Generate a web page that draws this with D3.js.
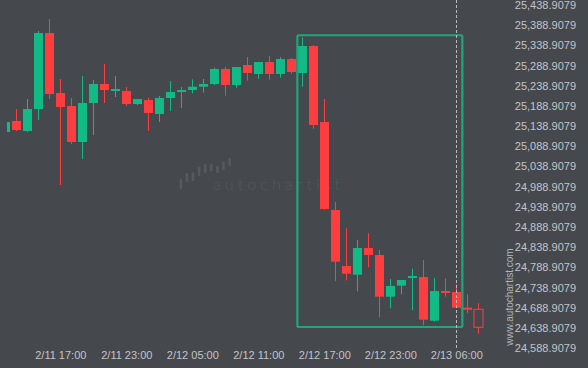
<!DOCTYPE html>
<html>
<head>
<meta charset="utf-8">
<script src="https://cdn.jsdelivr.net/npm/d3@7"></script>
<style>
  body { margin: 0; background: #45484d; }
  svg { display: block; font-family: "Liberation Sans", Arial, sans-serif; }
</style>
</head>
<body>
<div id="chart"></div>
<script>
// hourly candles, index 0 = 2/11 12:00
var opens  = [25124.1, 25151.4, 25126.6, 25181.1, 25369.5, 25220.8, 25188.6, 25099.4, 25196.0, 25243.1,
              25228.2, 25225.7, 25193.5, 25203.4, 25168.8, 25208.4, 25223.3, 25228.2, 25236.4, 25243.1,
              25280.3, 25240.6, 25290.2, 25267.9, 25297.6, 25267.9, 25305.0, 25270.4, 25337.3, 25148.9,
              24930.9, 24792.1, 24770.5, 24836.7, 24819.4, 24716.0, 24743.3, 24763.1, 24764.8, 24656.5,
              24730.1, 24727.7, 24688.8, 24684.8];
var highs  = [25148.9, 25181.1, 25205.9, 25374.4, 25404.2, 25255.5, 25208.4, 25262.9, 25253.0, 25292.7,
              25262.9, 25235.7, 25205.9, 25208.4, 25213.4, 25250.5, 25235.7, 25254.7, 25255.5, 25283.5,
              25285.2, 25285.2, 25310.0, 25297.6, 25312.5, 25310.0, 25307.5, 25358.8, 25339.7, 25205.9,
              24950.7, 24885.5, 24856.5, 24873.1, 24831.7, 24759.9, 24757.4, 24785.4, 24807.0, 24762.4,
              24761.6, 24746.7, 24722.0, 24699.7];
var lows   = [25124.1, 25126.6, 25124.1, 25153.9, 25205.9, 24992.8, 25094.4, 25057.2, 25116.7, 25196.0,
              25210.9, 25188.6, 25191.1, 25126.6, 25148.9, 25176.2, 25183.6, 25220.0, 25221.5, 25240.6,
              25214.1, 25233.9, 25251.3, 25256.2, 25253.8, 25258.7, 25268.6, 25236.4, 25132.3, 24930.9,
              24754.2, 24756.7, 24729.4, 24788.9, 24665.0, 24687.3, 24722.0, 24682.3, 24645.2, 24654.1,
              24716.0, 24688.8, 24674.9, 24624.3];
var closes = [25148.9, 25129.1, 25181.1, 25369.5, 25218.3, 25186.1, 25099.4, 25196.0, 25243.1, 25228.2,
              25230.7, 25193.5, 25205.9, 25171.2, 25208.4, 25223.3, 25228.2, 25236.4, 25243.1, 25280.3,
              25240.6, 25285.2, 25270.4, 25297.6, 25267.9, 25305.0, 25272.8, 25337.3, 25141.5, 24933.3,
              24802.8, 24773.0, 24836.7, 24819.4, 24716.0, 24742.5, 24757.4, 24767.3, 24659.0, 24730.1,
              24728.4, 24688.8, 24688.0, 24640.2];

var tickIdx = [5, 11, 17, 23, 29, 35, 41];
var tickLabels = ["2/11 17:00", "2/11 23:00", "2/12 05:00", "2/12 11:00", "2/12 17:00", "2/12 23:00", "2/13 06:00"];

var priceTicks = [24588.9079, 24638.9079, 24688.9079, 24738.9079, 24788.9079, 24838.9079, 24888.9079,
                  24938.9079, 24988.9079, 25038.9079, 25088.9079, 25138.9079, 25188.9079, 25238.9079,
                  25288.9079, 25338.9079, 25388.9079, 25438.9079];

// pattern box: candle index range and price range
var boxIdx = [26.55, 41.55];
var boxPrice = [24641, 25364];
var nowIdx = 41;

var width = 588, height = 368;
var green = "#12bb85", red = "#fd3d3e";

var svg = d3.select("#chart").append("svg")
  .attr("width", width)
  .attr("height", height);

svg.append("rect").attr("width", width).attr("height", height).attr("fill", "#45484d");

var x = d3.scaleLinear().domain([0, 43]).range([5.3, 478.3]);
var y = d3.scaleLinear().domain([24588.9079, 25438.9079]).range([348, 5]);

// watermark logo
var logoBars = [[179, 189], [173, 182], [172.5, 181], [167, 176], [164, 173], [164, 171.5], [166, 173], [161.5, 170], [158, 166]];
svg.append("g").selectAll("rect")
  .data(logoBars)
  .enter()
  .append("rect")
  .attr("x", function (d, i) { return 179.5 + i * 6.1; })
  .attr("y", function (d) { return d[0]; })
  .attr("width", 2.6)
  .attr("height", function (d) { return d[1] - d[0]; })
  .attr("rx", 0.8)
  .attr("fill", "#56595e");
svg.append("text")
  .attr("x", 213)
  .attr("y", 190)
  .attr("font-size", 16)
  .attr("font-weight", 300)
  .attr("letter-spacing", 4.1)
  .attr("fill", "#55585d")
  .style("font-family", "Lato, 'Open Sans', sans-serif")
  .text("autochartist");

svg.append("defs").append("clipPath").attr("id", "plotclip")
  .append("rect").attr("x", 7).attr("y", 0).attr("width", 500).attr("height", 350);

var plot = svg.append("g").attr("clip-path", "url(#plotclip)");

var candles = d3.range(opens.length).map(function (i) {
  return { i: i, o: opens[i], h: highs[i], l: lows[i], c: closes[i] };
});

var last = candles.length - 1;

var g = plot.selectAll("g.candle")
  .data(candles)
  .enter()
  .append("g")
  .attr("class", "candle");

g.append("line")
  .attr("x1", function (d) { return Math.round(x(d.i)) + 0.5; })
  .attr("x2", function (d) { return Math.round(x(d.i)) + 0.5; })
  .attr("y1", function (d) { return y(d.h); })
  .attr("y2", function (d) { return y(d.l); })
  .attr("stroke", function (d) { return d.c >= d.o ? green : red; })
  .attr("stroke-width", 1);

g.append("rect")
  .attr("x", function (d) { return Math.round(x(d.i)) - 4; })
  .attr("width", 9)
  .attr("y", function (d) { return y(Math.max(d.o, d.c)); })
  .attr("height", function (d) { return Math.max(2, Math.abs(y(d.o) - y(d.c))); })
  .attr("fill", function (d) {
    if (d.i == last) return "#45484d";
    return d.c >= d.o ? green : red;
  })
  .attr("stroke", function (d) { return d.i == last ? red : "none"; })
  .attr("stroke-width", 1);

// pattern box
svg.append("rect")
  .attr("x", x(boxIdx[0]))
  .attr("y", y(boxPrice[1]))
  .attr("width", x(boxIdx[1]) - x(boxIdx[0]))
  .attr("height", y(boxPrice[0]) - y(boxPrice[1]))
  .attr("rx", 1.5)
  .attr("fill", "none")
  .attr("stroke", "#1ea67c")
  .attr("stroke-width", 2.2);

// current time line
svg.append("line")
  .attr("x1", Math.round(x(nowIdx)) + 0.5)
  .attr("x2", Math.round(x(nowIdx)) + 0.5)
  .attr("y1", 0)
  .attr("y2", 350)
  .attr("stroke", "#b9bbbe")
  .attr("stroke-width", 1)
  .attr("stroke-dasharray", "3,2");

// axes
var xAxis = d3.axisBottom(x)
  .tickValues(tickIdx)
  .tickSize(0)
  .tickPadding(3)
  .tickFormat(function (d, i) { return tickLabels[i]; });

var yAxis = d3.axisLeft(y)
  .tickValues(priceTicks)
  .tickSize(0)
  .tickPadding(0)
  .tickFormat(d3.format(",.4f"));

var xg = svg.append("g").attr("transform", "translate(0,348)").call(xAxis);
var yg = svg.append("g").attr("transform", "translate(576,0)").call(yAxis);

[xg, yg].forEach(function (a) {
  a.select(".domain").remove();
  a.selectAll("text")
    .attr("fill", "#c3c5c8")
    .style("font-size", "11px")
    .style("font-family", "'Liberation Sans', Arial, sans-serif");
});

svg.append("text")
  .attr("transform", "translate(513,297) rotate(-90)")
  .attr("text-anchor", "middle")
  .attr("fill", "#b3b5b8")
  .attr("font-size", 10)
  .text("www.autochartist.com");
</script>
</body>
</html>
